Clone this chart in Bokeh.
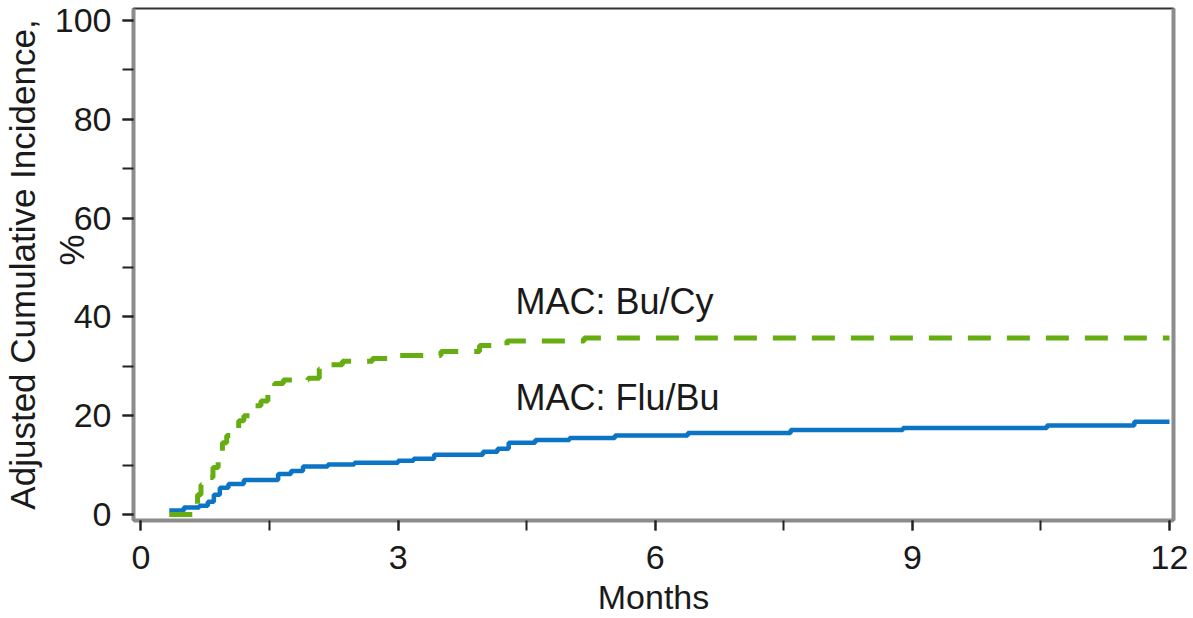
import math
from bokeh.plotting import figure
from bokeh.models import Range1d, LinearAxis, SingleIntervalTicker, Label
from bokeh.embed import file_html
from bokeh.resources import INLINE

# ---- data ----
months_flubu = [0.33, 0.50, 0.68, 0.78, 0.85, 0.92, 1.02, 1.20, 1.60, 1.75, 1.89, 2.18, 2.49,
                3.00, 3.18, 3.42, 3.99, 4.16, 4.29, 4.60, 5.00, 5.53, 6.38, 7.58, 8.89, 10.57,
                11.59, 12.00]
pct_flubu = [0.8, 1.4, 1.8, 2.6, 4.0, 5.4, 6.2, 7.0, 8.2, 8.8, 9.7, 10.1, 10.5,
             10.9, 11.3, 12.1, 12.7, 13.3, 14.5, 15.1, 15.5, 16.0, 16.5, 17.1, 17.5, 18.0,
             18.8, 18.8]

months_bucy = [0.33, 0.64, 0.66, 0.70, 0.78, 0.84, 0.90, 0.95, 1.00, 1.08, 1.14, 1.20, 1.28,
               1.40, 1.48, 1.56, 1.66, 1.95, 2.08, 2.15, 2.35, 2.70, 2.98, 3.50, 3.95, 4.27,
               5.17, 12.00]
pct_bucy = [0.0, 1.2, 4.0, 6.0, 7.5, 9.5, 12.5, 14.5, 16.0, 17.5, 19.0, 20.0, 22.0,
            23.0, 25.0, 26.5, 27.2, 27.6, 29.5, 30.3, 31.0, 31.6, 32.2, 33.0, 34.2, 35.1,
            35.7, 35.7]

series_labels = ["MAC: Flu/Bu", "MAC: Bu/Cy"]
x_title = "Months"
y_title = "Adjusted Cumulative Incidence,\n\u00a0\u00a0\u00a0%"

BLUE = "#0b74c5"
GREEN = "#66ad12"
FONT = "Liberation Sans"
TXT = "#1a1a1a"

p = figure(width=1193, height=618, output_backend="svg", toolbar_location=None,
           x_range=Range1d(-0.0875, 12.047), y_range=Range1d(-1.21, 102.41),
           min_border_left=133, min_border_right=20, min_border_top=8, min_border_bottom=95)

p.xgrid.visible = False
p.ygrid.visible = False
p.outline_line_color = "#333333"
p.outline_line_width = 2
p.background_fill_color = "white"
p.border_fill_color = "white"

p.xaxis.ticker = SingleIntervalTicker(interval=3, num_minor_ticks=2)
p.yaxis.ticker = SingleIntervalTicker(interval=20, num_minor_ticks=2)

for ax in (p.xaxis[0], p.yaxis[0]):
    ax.axis_line_color = "#8c8c8c"
    ax.axis_line_width = 4
    ax.major_tick_line_color = "#222222"
    ax.major_tick_line_width = 2
    ax.major_tick_in = 0
    ax.minor_tick_line_color = "#222222"
    ax.minor_tick_line_width = 2
    ax.minor_tick_in = 0
    ax.major_label_text_font = FONT
    ax.major_label_text_font_size = "34px"
    ax.major_label_text_color = TXT
    ax.axis_label_text_font = FONT
    ax.axis_label_text_font_style = "normal"
    ax.axis_label_text_color = TXT

xa = p.xaxis[0]
xa.major_tick_out = 10
xa.minor_tick_out = 10
xa.major_label_standoff = 15
xa.axis_label = x_title
xa.axis_label_text_font_size = "34px"
xa.axis_label_standoff = 6

ya = p.yaxis[0]
ya.major_tick_out = 11
ya.minor_tick_out = 11
ya.major_label_standoff = 11
ya.axis_label = y_title
ya.axis_label_text_font_size = "35px"
ya.axis_label_text_line_height = 1.25
ya.axis_label_standoff = -39

ra = LinearAxis(ticker=SingleIntervalTicker(interval=200),
                axis_line_color="#8c8c8c", axis_line_width=4,
                major_tick_line_color=None, minor_tick_line_color=None,
                major_tick_out=0, major_tick_in=0, minor_tick_out=0, minor_tick_in=0,
                major_label_text_color=None, major_label_text_font_size="1px",
                major_label_standoff=0)
p.add_layout(ra, "right")

p.step(months_flubu, pct_flubu, mode="after", line_color=BLUE, line_width=4.5)
p.step(months_bucy, pct_bucy, mode="after", line_color=GREEN, line_width=5,
       line_dash="23 16")

p.add_layout(Label(x=4.37, y=43.1, text=series_labels[1], text_font=FONT,
                   text_font_size="36px", text_color=TXT, text_align="left",
                   text_baseline="alphabetic"))
p.add_layout(Label(x=4.37, y=23.7, text=series_labels[0], text_font=FONT,
                   text_font_size="36px", text_color=TXT, text_align="left",
                   text_baseline="alphabetic"))

open("out.html", "w").write(file_html(p, INLINE))
